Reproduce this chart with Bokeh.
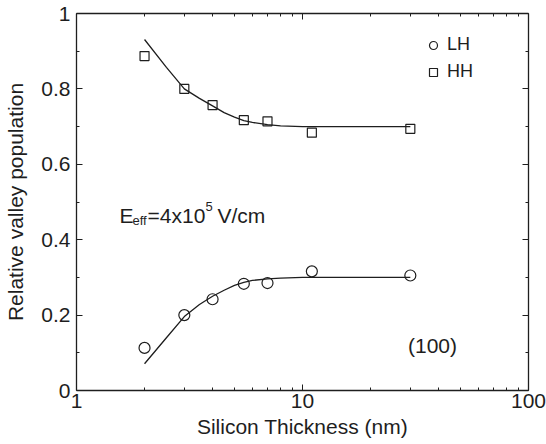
from bokeh.plotting import figure
from bokeh.models import (ColumnDataSource, Range1d, LogAxis, LinearAxis, FixedTicker,
                          NumeralTickFormatter, Legend, LegendItem, Label)
from bokeh.embed import file_html
from bokeh.resources import INLINE

# Measured valley populations vs silicon film thickness
thickness_nm = [2, 3, 4, 5.5, 7, 11, 30]
lh_population = [0.113, 0.200, 0.242, 0.283, 0.285, 0.316, 0.305]
hh_population = [0.887, 0.800, 0.757, 0.717, 0.714, 0.684, 0.694]

# Model curves
curve_thickness = [2, 2.5, 3, 3.5, 4, 4.5, 5, 5.5, 6, 7, 8, 10, 15, 30]
lh_curve = [0.071, 0.140, 0.196, 0.228, 0.250, 0.266, 0.279, 0.287, 0.292, 0.296, 0.298, 0.300, 0.300, 0.300]
hh_curve = [0.931, 0.857, 0.800, 0.775, 0.755, 0.737, 0.725, 0.716, 0.711, 0.705, 0.702, 0.700, 0.700, 0.700]

x_major = [1, 10, 100]
x_minor = [2, 3, 4, 5, 6, 7, 8, 9, 20, 30, 40, 50, 60, 70, 80, 90]
y_major = [0, 0.2, 0.4, 0.6, 0.8, 1.0]
y_minor = [0.1, 0.3, 0.5, 0.7, 0.9]

FONT = "Liberation Sans"
INK = "#1e1e1e"

p = figure(width=546, height=444, x_axis_type="log",
           x_range=Range1d(1, 100), y_range=Range1d(0, 1),
           output_backend="svg", toolbar_location=None,
           min_border_left=76, min_border_right=18, min_border_top=13, min_border_bottom=54,
           x_axis_label="Silicon Thickness (nm)", y_axis_label="Relative valley population")
p.outline_line_color = None
p.grid.visible = False
p.background_fill_color = "white"
p.border_fill_color = "white"

x_ticker = FixedTicker(ticks=x_major, minor_ticks=x_minor)
y_ticker = FixedTicker(ticks=y_major, minor_ticks=y_minor)


def style_axis(ax, labels=True):
    ax.axis_line_color = INK
    ax.axis_line_width = 1.3
    ax.major_tick_line_color = INK
    ax.minor_tick_line_color = INK
    ax.major_tick_in = 6
    ax.major_tick_out = 0
    ax.minor_tick_in = 3
    ax.minor_tick_out = 0
    ax.major_label_text_font = FONT
    ax.major_label_text_color = INK
    ax.axis_label_text_font = FONT
    ax.axis_label_text_font_style = "normal"
    ax.axis_label_text_color = INK
    if labels:
        ax.major_label_text_font_size = "21px"
        ax.axis_label_text_font_size = "21px"
    else:
        # mirrored frame side: ticks only, labels invisible
        ax.major_label_text_font_size = "1px"
        ax.major_label_text_alpha = 0
        ax.major_label_standoff = 0


xa = p.xaxis[0]
xa.ticker = x_ticker
xa.formatter = NumeralTickFormatter(format="0")
style_axis(xa)
xa.major_label_standoff = 3
xa.axis_label_standoff = 4

ya = p.yaxis[0]
ya.ticker = y_ticker
ya.formatter = NumeralTickFormatter(format="0.[0]")
style_axis(ya)
ya.major_label_standoff = 6
ya.axis_label_standoff = 11

top = LogAxis(ticker=x_ticker, formatter=NumeralTickFormatter(format="0"))
style_axis(top, labels=False)
p.add_layout(top, "above")
right = LinearAxis(ticker=y_ticker, formatter=NumeralTickFormatter(format="0.[0]"))
style_axis(right, labels=False)
p.add_layout(right, "right")

# Curves
p.line(curve_thickness, lh_curve, line_color=INK, line_width=1.3)
p.line(curve_thickness, hh_curve, line_color=INK, line_width=1.3)

src = ColumnDataSource(dict(t=thickness_nm, lh=lh_population, hh=hh_population))
lh_r = p.scatter("t", "lh", source=src, marker="circle", size=11,
                 fill_color=None, line_color=INK, line_width=1.2)
hh_r = p.scatter("t", "hh", source=src, marker="square", size=9,
                 fill_color=None, line_color=INK, line_width=1.2)

legend = Legend(items=[LegendItem(label="LH", renderers=[lh_r]),
                       LegendItem(label="HH", renderers=[hh_r])],
                location=(347, 308), border_line_color=None, background_fill_alpha=0,
                padding=0, margin=0, spacing=6, glyph_width=20, glyph_height=20,
                label_height=20, label_standoff=4,
                label_text_font=FONT, label_text_font_size="18px", label_text_color=INK)
p.add_layout(legend)

# E_eff annotation built from pieces (main text, subscript, superscript)
ax_, ay_ = 1.55, 0.464
pieces = [
    ("E", 0, 0, "21px"),
    ("eff", 13, -5, "13px"),
    ("=4x10", 28, 0, "21px"),
    ("5", 86, 9, "13px"),
    ("V/cm", 98, 0, "21px"),
]
for txt, dx, dy, fs in pieces:
    p.add_layout(Label(x=ax_, y=ay_, x_offset=dx, y_offset=dy, text=txt,
                       text_font=FONT, text_font_size=fs, text_color=INK,
                       text_baseline="alphabetic", text_align="left"))

p.add_layout(Label(x=37.6, y=0.119, text="(100)", text_font=FONT, text_font_size="21px",
                   text_color=INK, text_align="center", text_baseline="middle"))

open("out.html", "w").write(file_html(p, INLINE))
